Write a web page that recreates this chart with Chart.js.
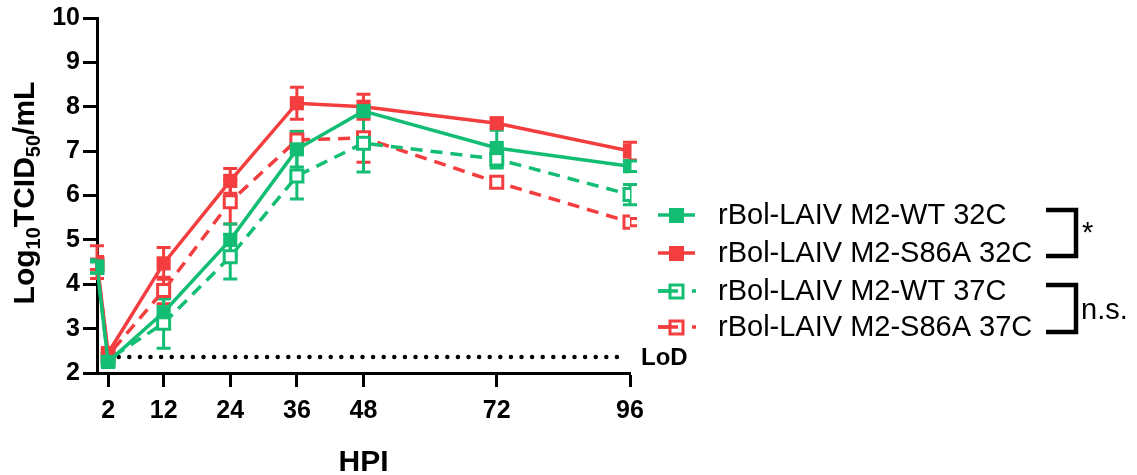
<!DOCTYPE html>
<html>
<head>
<meta charset="utf-8">
<script src="https://cdn.jsdelivr.net/npm/chart.js@4.4.1/dist/chart.umd.min.js"></script>
<style>
  html, body { margin: 0; padding: 0; background: #fff; }
  #wrap { width: 1137px; height: 475px; position: relative; }
</style>
</head>
<body>
<div id="wrap"><canvas id="growthChart" width="1137" height="475"></canvas></div>
<script>
const hours = [0, 2, 12, 24, 36, 48, 72, 96];
const xTicks = [2, 12, 24, 36, 48, 72, 96];

const wt32 = [4.4, 2.25, 3.37, 5.0, 7.04, 7.9, 7.07, 6.66];
const wt32Err = [0.15, 0.1, 0.3, 0.36, 0.4, 0.12, 0.4, 0.12];
const s86a32 = [4.5, 2.45, 4.47, 6.33, 8.08, 8.0, 7.63, 7.0];
const s86a32Err = [0.37, 0.12, 0.36, 0.28, 0.36, 0.28, 0.1, 0.2];
const wt37 = [4.38, 2.3, 3.12, 4.62, 6.44, 7.18, 6.82, 6.02];
const wt37Err = [0.12, 0.1, 0.56, 0.5, 0.52, 0.65, 0.2, 0.23];
const s86a37 = [4.45, 2.4, 3.86, 5.86, 7.25, 7.3, 6.3, 5.4];
const s86a37Err = [0.12, 0.15, 0.3, 0.5, 0.2, 0.55, 0.1, 0.08];

const lod = 2.36;
const seriesNames = ['rBol-LAIV M2-WT 32C', 'rBol-LAIV M2-S86A 32C', 'rBol-LAIV M2-WT 37C', 'rBol-LAIV M2-S86A 37C'];

const GREEN = '#13be74';
const RED = '#f33d3f';
const FONT = "'Liberation Sans', Arial, sans-serif";

function pts(vals) {
    return hours.map((h, i) => ({ x: h, y: vals[i] }));
}

function makeSet(label, vals, errs, color, open) {
    return {
        label: label,
        data: pts(vals),
        errs: errs,
        borderColor: color,
        backgroundColor: color,
        borderWidth: 3.5,
        borderDash: open ? [12, 8] : [],
        pointStyle: 'rect',
        pointRadius: open ? 8.5 : 10,
        pointBorderWidth: open ? 3 : 0,
        pointBackgroundColor: open ? '#ffffff' : color,
        pointBorderColor: color,
        open: open,
        tension: 0
    };
}

const errorBars = {
    id: 'errorBars',
    beforeDatasetsDraw(chart) {
        const ctx = chart.ctx;
        const y = chart.scales.y;
        ctx.save();
        for (let d = chart.data.datasets.length - 1; d >= 0; d--) {
            const ds = chart.data.datasets[d];
            const meta = chart.getDatasetMeta(d);
            ctx.strokeStyle = ds.borderColor;
            ctx.lineWidth = 3;
            meta.data.forEach((pt, i) => {
                const v = ds.data[i].y;
                const e = ds.errs[i];
                const top = y.getPixelForValue(v + e);
                const bot = y.getPixelForValue(v - e);
                ctx.beginPath();
                ctx.moveTo(pt.x, top); ctx.lineTo(pt.x, bot);
                ctx.moveTo(pt.x - 7, top); ctx.lineTo(pt.x + 7, top);
                ctx.moveTo(pt.x - 7, bot); ctx.lineTo(pt.x + 7, bot);
                ctx.stroke();
            });
        }
        // limit of detection
        const x = chart.scales.x;
        const ly = y.getPixelForValue(lod);
        ctx.strokeStyle = '#000';
        ctx.lineWidth = 4.5;
        ctx.lineCap = 'round';
        ctx.setLineDash([0, 10.6]);
        ctx.beginPath();
        ctx.moveTo(x.getPixelForValue(2), ly);
        ctx.lineTo(x.getPixelForValue(96) - 4, ly);
        ctx.stroke();
        ctx.restore();
    },
    afterDraw(chart) {
        const ctx = chart.ctx;
        const y = chart.scales.y;
        ctx.save();
        ctx.fillStyle = '#000';
        ctx.textBaseline = 'middle';
        ctx.font = 'bold 24px ' + FONT;
        ctx.fillText('LoD', 641, y.getPixelForValue(lod) + 1);

        // axis titles
        ctx.font = 'bold 30px ' + FONT;
        ctx.textAlign = 'center';
        ctx.fillText('HPI', (chart.chartArea.left + chart.chartArea.right) / 2, 463);

        ctx.save();
        ctx.translate(34, 193);
        ctx.rotate(-Math.PI / 2);
        ctx.textAlign = 'left';
        ctx.textBaseline = 'alphabetic';
        const parts = [['Log', 0], ['10', 1], ['TCID', 0], ['50', 1], ['/mL', 0]];
        const big = 'bold 30px ' + FONT, small = 'bold 20px ' + FONT;
        let total = 0;
        parts.forEach(p => { ctx.font = p[1] ? small : big; total += ctx.measureText(p[0]).width; });
        let cx = -total / 2;
        parts.forEach(p => {
            ctx.font = p[1] ? small : big;
            ctx.fillText(p[0], cx, p[1] ? 6 : 0);
            cx += ctx.measureText(p[0]).width;
        });
        ctx.restore();

        // legend
        const rows = [215, 253, 291, 327];
        chart.data.datasets.forEach((ds, i) => {
            const ry = rows[i];
            ctx.strokeStyle = ds.borderColor;
            ctx.fillStyle = ds.borderColor;
            ctx.lineWidth = 3.5;
            if (!ds.open) {
                ctx.beginPath(); ctx.moveTo(658, ry); ctx.lineTo(695, ry); ctx.stroke();
                ctx.fillRect(669, ry - 7, 15, 15);
            } else {
                ctx.beginPath(); ctx.moveTo(658, ry); ctx.lineTo(672, ry); ctx.stroke();
                ctx.fillStyle = '#fff';
                ctx.fillRect(670, ry - 6, 13, 13);
                ctx.lineWidth = 3;
                ctx.strokeRect(670, ry - 6, 13, 13);
                ctx.lineWidth = 3.5;
                ctx.beginPath(); ctx.moveTo(658, ry); ctx.lineTo(678, ry); ctx.stroke();
                ctx.fillStyle = ds.borderColor;
                ctx.fillRect(692, ry - 1.75, 4, 3.5);
            }
            ctx.fillStyle = '#000';
            ctx.font = '29px ' + FONT;
            ctx.textAlign = 'left';
            ctx.textBaseline = 'middle';
            ctx.fillText(seriesNames[i], 718, ry + 1);
        });

        // significance brackets
        ctx.strokeStyle = '#000';
        ctx.lineWidth = 4.5;
        ctx.lineJoin = 'miter';
        ctx.beginPath();
        ctx.moveTo(1046, 210); ctx.lineTo(1076, 210); ctx.lineTo(1076, 256); ctx.lineTo(1046, 256);
        ctx.stroke();
        ctx.beginPath();
        ctx.moveTo(1046, 285); ctx.lineTo(1076, 285); ctx.lineTo(1076, 332); ctx.lineTo(1046, 332);
        ctx.stroke();
        ctx.font = '29px ' + FONT;
        ctx.fillText('*', 1082, 234);
        ctx.fillText('n.s.', 1081, 311);
        ctx.restore();
    }
};

const tickFont = { family: FONT, size: 25, weight: 'bold' };

new Chart(document.getElementById('growthChart'), {
    type: 'line',
    data: {
        datasets: [
            makeSet(seriesNames[0], wt32, wt32Err, GREEN, false),
            makeSet(seriesNames[1], s86a32, s86a32Err, RED, false),
            makeSet(seriesNames[2], wt37, wt37Err, GREEN, true),
            makeSet(seriesNames[3], s86a37, s86a37Err, RED, true)
        ]
    },
    options: {
        responsive: false,
        animation: false,
        devicePixelRatio: 1,
        layout: { padding: { left: 0, top: 17, right: 507, bottom: 0 } },
        plugins: {
            legend: { display: false },
            tooltip: { enabled: false }
        },
        scales: {
            x: {
                type: 'linear',
                min: 0,
                max: 96,
                afterBuildTicks: s => { s.ticks = xTicks.map(v => ({ value: v })); },
                afterFit: s => { s.height = 102; },
                ticks: { color: '#000', font: tickFont, padding: 9, maxRotation: 0, autoSkip: false },
                border: { color: '#000', width: 3 },
                grid: { drawOnChartArea: false, drawTicks: true, tickLength: 14, tickWidth: 3, color: '#000' }
            },
            y: {
                min: 2,
                max: 10,
                afterFit: s => { s.width = 97; },
                ticks: { stepSize: 1, color: '#000', font: tickFont, padding: 3 },
                border: { color: '#000', width: 3 },
                grid: { drawOnChartArea: false, drawTicks: true, tickLength: 14, tickWidth: 3, color: '#000' }
            }
        }
    },
    plugins: [errorBars]
});
</script>
</body>
</html>
